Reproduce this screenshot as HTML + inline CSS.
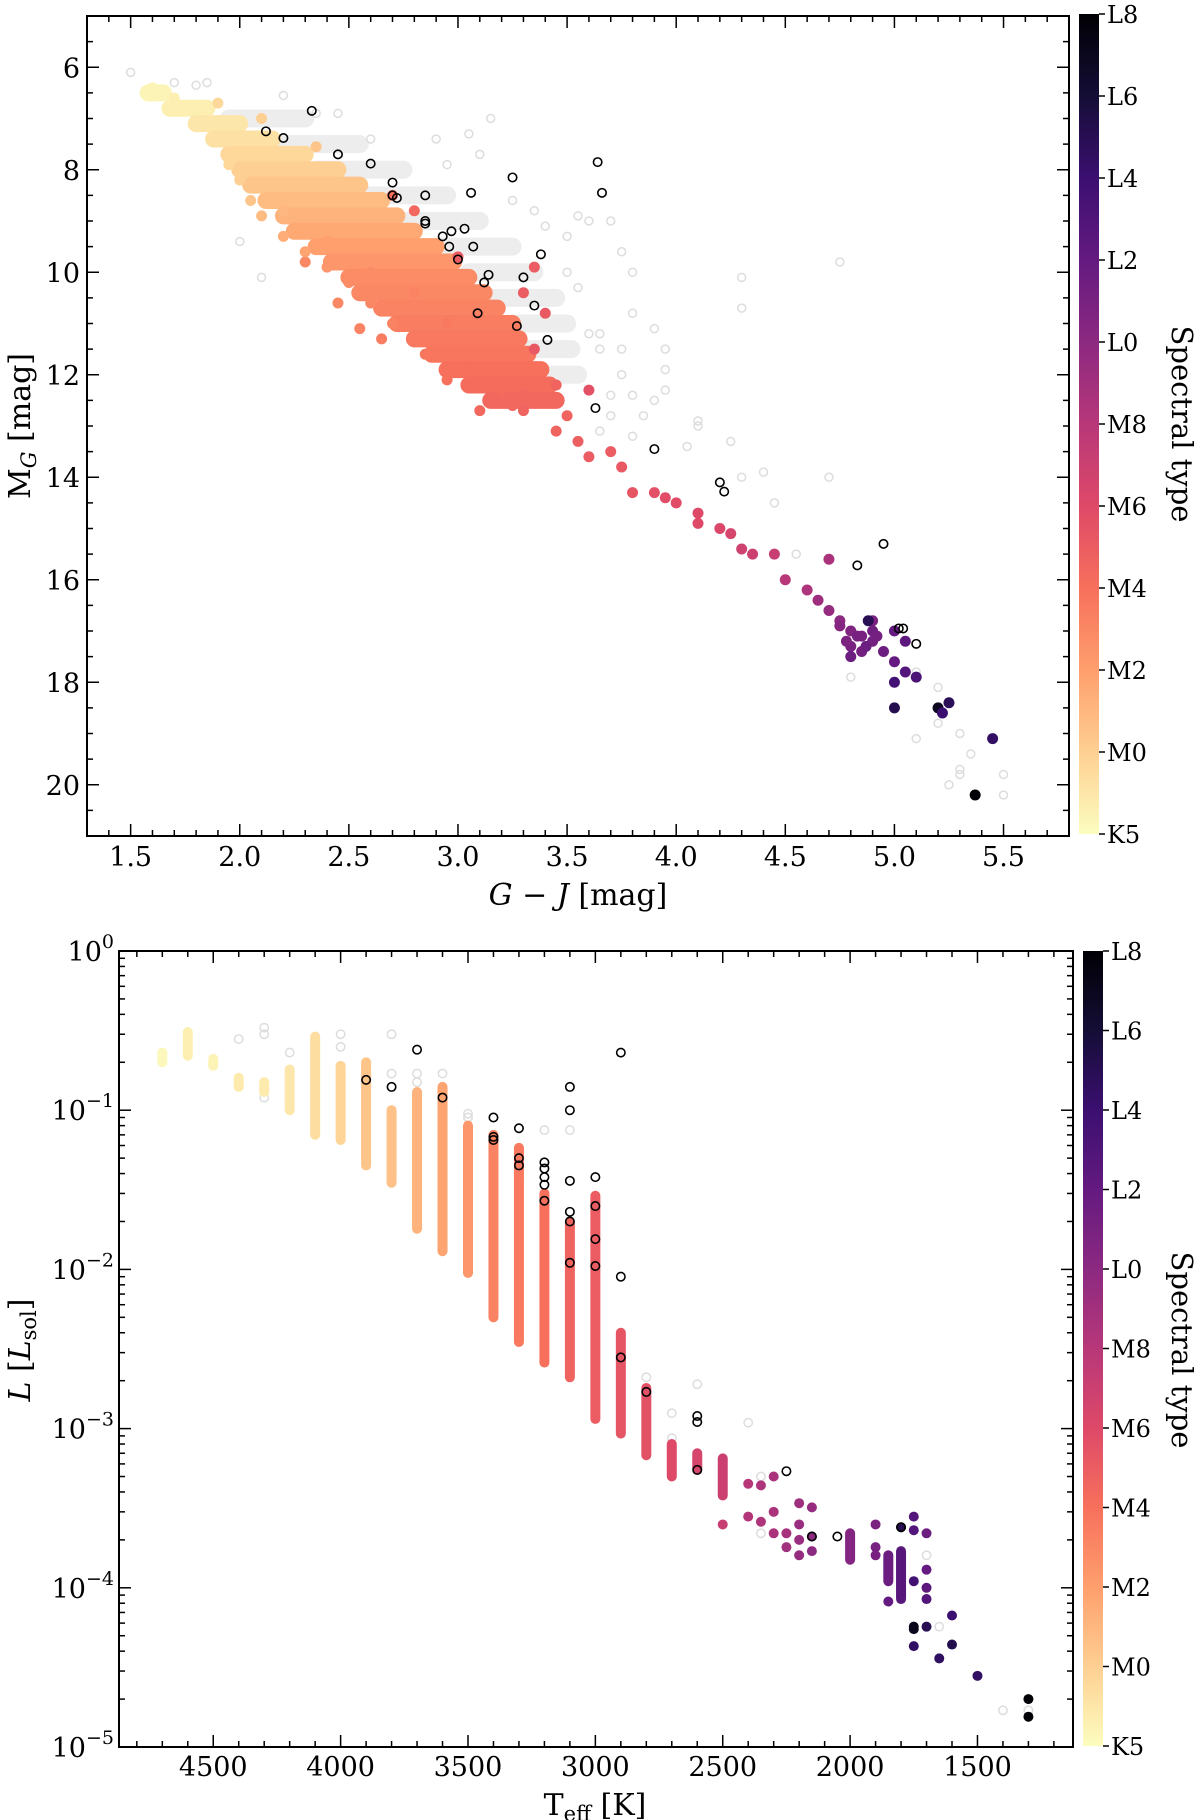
<!DOCTYPE html>
<html><head><meta charset="utf-8"><style>
html,body{margin:0;padding:0;background:#fff;}
svg{display:block;font-family:"DejaVu Serif","Liberation Serif",serif;}
</style></head><body>
<svg id="fig" width="1200" height="1820" viewBox="0 0 1200 1820" xmlns="http://www.w3.org/2000/svg">
<defs>
<linearGradient id="magma" x1="0" y1="1" x2="0" y2="0">
<stop offset="0" stop-color="#fcfdbf"/><stop offset="0.1" stop-color="#fecf92"/><stop offset="0.2" stop-color="#fe9f6d"/><stop offset="0.3" stop-color="#f7705c"/><stop offset="0.4" stop-color="#de4968"/><stop offset="0.5" stop-color="#b73779"/><stop offset="0.6" stop-color="#8c2981"/><stop offset="0.7" stop-color="#641a80"/><stop offset="0.8" stop-color="#3b0f70"/><stop offset="0.9" stop-color="#140e36"/><stop offset="1" stop-color="#000004"/>
</linearGradient>
</defs>
<g id="top"></g>
<g id="bot"></g>
</svg>
<script>
// ---------- data: top panel (G-J, M_G, spectral index 0=K5 .. 10=L8) ----------
const topBandMG   = [6.5,6.8,7.1,7.4,7.7,8.0,8.3,8.6,8.9,9.2,9.5,9.8,10.1,10.4,10.7,11.0,11.3,11.6,11.9,12.2,12.5];
const topBandXlo  = [1.58,1.68,1.8,1.88,1.95,2.0,2.05,2.12,2.2,2.25,2.35,2.42,2.5,2.55,2.65,2.72,2.8,2.88,2.95,3.05,3.15];
const topBandXhi  = [1.65,1.85,2.0,2.15,2.3,2.45,2.55,2.65,2.72,2.8,2.9,2.98,3.05,3.12,3.18,3.25,3.28,3.32,3.38,3.42,3.45];
const topBandSpt  = [0.2,0.3,0.5,0.6,0.8,1.0,1.2,1.4,1.6,1.8,2.0,2.2,2.4,2.5,2.6,2.7,2.8,2.9,3.0,3.1,3.2];
const greyBandMG  = [7.0,7.5,8.0,8.5,9.0,9.5,10.0,10.5,11.0,11.5,12.0];
const greyBandXlo = [1.95,2.15,2.35,2.55,2.75,2.9,3.05,3.15,3.25,3.3,3.35];
const greyBandXhi = [2.3,2.55,2.75,2.95,3.1,3.25,3.35,3.45,3.5,3.52,3.55];
const topX   = [3.5,3.45,3.55,3.6,3.7,3.75,3.8,3.9,3.95,4.0,4.1,4.1,4.2,4.25,4.3,4.35,4.45,4.5,4.6,4.7,4.65,4.7,4.75,4.8,4.85,4.9,4.8,4.9,4.95,4.8,4.85,4.88,5.0,5.05,5.0,5.05,5.1,5.0,5.0,5.2,5.25,5.22,5.45,5.37,3.45,3.3,2.35,2.1,1.9,2.3,2.45,2.55,2.65,3.35,3.3,3.4,3.35,3.6,2.8,2.7,3.0,1.6,1.7,1.95,2.05,2.1,2.2,2.3,2.4,2.5,2.6,2.7,2.85,2.95,3.1,2.0,2.2,2.4,2.6,2.8,2.95,3.05,3.2,3.25,3.3,4.78,4.83,4.9,4.75,4.87,4.92];
const topY   = [12.8,13.1,13.3,13.6,13.5,13.8,14.3,14.3,14.4,14.5,14.7,14.9,15.0,15.1,15.4,15.5,15.5,16.0,16.2,15.6,16.4,16.6,16.8,17.0,17.1,17.2,17.3,16.8,17.4,17.5,17.4,16.8,17.0,17.2,17.6,17.8,17.9,18.0,18.5,18.5,18.4,18.6,19.1,20.2,12.2,12.7,7.55,7.0,6.7,9.8,10.6,11.1,11.3,9.9,10.4,10.8,11.5,12.3,8.8,8.5,9.7,6.4,6.6,7.9,8.6,8.9,9.3,9.6,9.9,10.2,10.6,11.0,11.6,12.1,12.7,8.2,8.8,9.4,10.0,10.4,11.0,11.9,12.3,12.6,12.4,17.2,17.1,17.0,16.9,17.3,17.1];
const topSpt = [3.3,3.3,3.4,3.5,3.5,3.6,3.7,3.8,3.9,3.9,4.0,4.0,4.1,4.2,4.4,4.5,4.6,5.0,5.2,5.3,5.6,5.8,6.0,6.3,6.5,6.6,6.5,6.4,6.8,6.8,6.6,8.5,7.0,7.2,7.0,7.4,7.6,7.8,8.6,9.4,8.4,8.0,8.2,10,3.3,3.3,1.2,1.0,0.8,2.5,2.5,2.6,2.7,3.5,3.5,3.6,3.6,3.8,3.2,3.0,3.5,0.2,0.3,0.8,1.2,1.4,1.7,1.9,2.2,2.4,2.5,2.6,2.9,3.0,3.2,1.0,1.5,2.0,2.4,2.6,2.8,3.0,3.1,3.2,3.2,6.4,6.5,6.7,6.2,6.8,6.6];
const greyX = [1.5,1.7,1.8,1.85,2.2,2.0,2.35,2.6,3.15,3.1,3.05,2.95,3.25,3.35,3.4,3.55,3.6,3.5,3.7,3.75,3.5,3.55,3.6,3.65,3.65,3.75,3.8,3.8,3.9,3.95,3.95,3.8,3.9,3.95,3.85,3.7,3.65,3.8,4.05,4.1,4.1,4.25,4.3,4.4,4.45,4.7,4.3,4.3,4.75,4.55,5.1,5.2,5.2,5.3,5.1,5.35,5.3,5.3,5.25,5.5,5.5,4.8,3.75,3.7,2.1,2.45,2.9];
const greyY = [6.1,6.3,6.35,6.3,6.55,9.4,6.9,7.4,7.0,7.7,7.3,7.9,8.6,8.8,9.1,8.9,9.0,9.3,9.0,9.6,10.0,10.3,11.2,11.2,11.5,11.5,10.8,10.0,11.1,11.5,11.9,12.4,12.5,12.3,12.8,12.8,13.1,13.2,13.4,12.9,13.0,13.3,14.0,13.9,14.5,14.0,10.1,10.7,9.8,15.5,17.8,18.1,18.8,19.0,19.1,19.4,19.7,19.8,20.0,19.8,20.2,17.9,12.0,12.4,10.1,6.9,7.4];
const blackX = [2.12,2.2,2.33,2.45,2.6,2.7,2.7,2.72,2.85,2.85,2.85,2.93,2.97,2.96,3.03,3.06,3.07,3.0,3.09,3.12,3.14,3.25,3.27,3.3,3.35,3.38,3.41,3.64,3.66,3.63,3.9,4.2,4.22,4.83,4.95,5.02,5.04,5.1];
const blackY = [7.25,7.38,6.85,7.7,7.88,8.25,8.5,8.55,8.5,9.0,9.05,9.3,9.2,9.5,9.15,8.45,9.5,9.75,10.8,10.2,10.05,8.15,11.05,10.1,10.65,9.65,11.32,7.85,8.45,12.65,13.45,14.1,14.28,15.72,15.3,16.95,16.95,17.25];
const topXTicks = [1.5,2.0,2.5,3.0,3.5,4.0,4.5,5.0,5.5];
const topYTicks = [6,8,10,12,14,16,18,20];
const cbLabels = ["K5","M0","M2","M4","M6","M8","L0","L2","L4","L6","L8"];

// ---------- data: bottom panel (Teff, L) ----------
const colT   = [4700,4600,4500,4400,4300,4200,4100,4000,3900,3800,3700,3600,3500,3400,3300,3200,3100,3000,2900,2800,2700,2600,2500,2000,1850,1800];
const colLo  = [0.2,0.22,0.19,0.14,0.13,0.1,0.07,0.065,0.045,0.035,0.018,0.013,0.0095,0.005,0.0035,0.0026,0.0021,0.00115,0.00093,0.00068,0.0005,0.00055,0.00038,0.00015,0.00011,0.000085];
const colHi  = [0.23,0.31,0.21,0.16,0.15,0.18,0.29,0.19,0.2,0.1,0.13,0.14,0.08,0.07,0.058,0.03,0.02,0.029,0.004,0.0018,0.0008,0.0007,0.00065,0.00022,0.00016,0.00017];
const colSpt = [0.1,0.3,0.2,0.4,0.4,0.5,0.7,0.9,1.2,1.3,1.6,1.9,2.2,2.6,2.8,3.0,3.3,3.5,3.7,3.8,4.0,4.2,4.5,6.2,6.8,7.3];
const botT   = [2500,2400,2400,2350,2350,2300,2300,2300,2250,2250,2200,2200,2200,2200,2150,2150,2150,1900,1900,1900,1850,1800,1750,1750,1750,1750,1750,1750,1700,1700,1700,1700,1700,1650,1600,1600,1500,1300,1300];
const botL   = [0.00025,0.00045,0.00028,0.00044,0.00026,0.0005,0.0003,0.00022,0.00022,0.00018,0.00034,0.00025,0.0002,0.00016,0.00032,0.00021,0.00017,0.00025,0.00018,0.00016,0.000082,0.00024,0.00028,0.00023,0.00011,0.000057,0.000055,0.000043,0.00022,0.00013,0.0001,0.000085,0.000057,0.000036,0.000067,0.000044,0.000028,0.00002,0.0000155];
const botSpt = [4.6,5.0,5.1,5.2,5.2,5.3,5.3,5.3,5.4,5.5,5.6,5.7,5.7,5.8,5.8,6.0,6.0,6.4,6.5,6.5,7.0,8.5,7.4,7.4,7.8,9.5,9.5,8.2,6.8,7.0,7.2,7.4,8.5,8.3,8.0,8.6,8.2,10,10];
const bgT = [4300,4300,4400,4300,4200,4100,4000,4000,3800,3800,3700,3600,3500,3300,3200,3100,3000,3000,2800,2700,2700,2600,2400,2350,2350,1700,1650,1400,1300,4100,4100,3700,3500,3000];
const bgL = [0.33,0.3,0.28,0.12,0.23,0.2,0.3,0.25,0.3,0.17,0.17,0.17,0.095,0.035,0.075,0.075,0.021,0.008,0.0021,0.00125,0.00087,0.0019,0.00109,0.0005,0.00022,0.00016,0.000057,0.000017,0.000017,0.16,0.13,0.15,0.09,0.007];
const bkT = [3900,3800,3700,3600,3400,3400,3400,3300,3300,3300,3200,3200,3200,3200,3200,3100,3100,3100,3100,3100,3100,3000,3000,3000,3000,2900,2900,2900,2800,2600,2600,2600,2250,2150,2050,1800];
const bkL = [0.155,0.14,0.24,0.12,0.09,0.068,0.065,0.077,0.05,0.045,0.047,0.043,0.038,0.034,0.027,0.14,0.1,0.036,0.023,0.02,0.011,0.038,0.025,0.0155,0.0105,0.23,0.009,0.0028,0.0017,0.0012,0.0011,0.00055,0.00054,0.00021,0.00021,0.00024];
const botXTicks = [4500,4000,3500,3000,2500,2000,1500];
const botYExp = [0,-1,-2,-3,-4,-5];

// ---------- helpers ----------
const NS="http://www.w3.org/2000/svg";
function mk(parent,tag,attrs){const e=document.createElementNS(NS,tag);for(const k in attrs)e.setAttribute(k,attrs[k]);parent.appendChild(e);return e;}
const stops=[[0,[252,253,191]],[0.1,[254,207,146]],[0.2,[254,159,109]],[0.3,[247,112,92]],[0.4,[222,73,104]],[0.5,[183,55,121]],[0.6,[140,41,129]],[0.7,[100,26,128]],[0.8,[59,15,112]],[0.9,[20,14,54]],[1,[0,0,4]]];
function cmap(s){let t=Math.max(0,Math.min(1,s/10));for(let i=0;i<stops.length-1;i++){const a=stops[i],b=stops[i+1];if(t<=b[0]){const f=(t-a[0])/(b[0]-a[0]);const c=a[1].map((v,j)=>Math.round(v+(b[1][j]-v)*f));return`rgb(${c[0]},${c[1]},${c[2]})`;}}return"rgb(0,0,4)";}

// ---------- top panel ----------
const T={x0:87,x1:1069,y0:16,y1:836,xmin:1.3,xmax:5.8,ymin:5,ymax:21};
const tx=v=>T.x0+(v-T.xmin)/(T.xmax-T.xmin)*(T.x1-T.x0);
const ty=v=>T.y0+(v-T.ymin)/(T.ymax-T.ymin)*(T.y1-T.y0);
const gt=document.getElementById('top');
const gtg=mk(gt,'g',{});


for(let i=0;i<greyBandMG.length;i++){
  const l=mk(gtg,'line',{x1:tx(greyBandXlo[i]),x2:tx(greyBandXhi[i]),y1:ty(greyBandMG[i]),y2:ty(greyBandMG[i]),stroke:'#ededed','stroke-width':18,'stroke-linecap':'round'});
  
  
}
for(let i=0;i<greyX.length;i++){
  const c=mk(gtg,'circle',{cx:tx(greyX[i]),cy:ty(greyY[i]),r:4,fill:'none',stroke:'#dddddd','stroke-width':1.5});
  
  
}
const gtc=mk(gt,'g',{});


for(let i=0;i<topBandMG.length;i++){
  const l=mk(gtc,'line',{x1:tx(topBandXlo[i]),x2:tx(topBandXhi[i]),y1:ty(topBandMG[i]),y2:ty(topBandMG[i]),stroke:cmap(topBandSpt[i]),'stroke-width':17,'stroke-linecap':'round'});
  
  
}
for(let i=0;i<topX.length;i++){
  const c=mk(gtc,'circle',{cx:tx(topX[i]),cy:ty(topY[i]),r:5.5,fill:cmap(topSpt[i])});
  
  
}
for(let i=0;i<blackX.length;i++){
  const c=mk(gt,'circle',{cx:tx(blackX[i]),cy:ty(blackY[i]),r:4.2,fill:'none',stroke:'#000','stroke-width':1.6});
  
  
}
mk(gt,'rect',{x:T.x0,y:T.y0,width:T.x1-T.x0,height:T.y1-T.y0,fill:'none',stroke:'#000','stroke-width':2});
for(let v=1.4;v<=5.75;v+=0.1){const X=tx(v);const maj=topXTicks.some(t=>Math.abs(t-v)<1e-6);const L=maj?12:6;
  mk(gt,'line',{x1:X,x2:X,y1:T.y1,y2:T.y1-L,stroke:'#000','stroke-width':1.5});mk(gt,'line',{x1:X,x2:X,y1:T.y0,y2:T.y0+L,stroke:'#000','stroke-width':1.5});}
for(let v=5.5;v<=20.6;v+=0.5){const Y=ty(v);const maj=topYTicks.includes(v);const L=maj?12:6;
  mk(gt,'line',{x1:T.x0,x2:T.x0+L,y1:Y,y2:Y,stroke:'#000','stroke-width':1.5});mk(gt,'line',{x1:T.x1,x2:T.x1-L,y1:Y,y2:Y,stroke:'#000','stroke-width':1.5});}
topXTicks.forEach(v=>{const t=mk(gt,'text',{x:tx(v),y:866,'font-size':27,'text-anchor':'middle'});t.textContent=v.toFixed(1);
  
  });
topYTicks.forEach(v=>{const t=mk(gt,'text',{x:80,y:ty(v)+10,'font-size':27,'text-anchor':'end'});t.textContent=v;
  
  });
{const t=mk(gt,'text',{x:578,y:905,'font-size':30,'text-anchor':'middle'});t.innerHTML='<tspan font-style="italic">G</tspan> − <tspan font-style="italic">J</tspan> [mag]';
 
 }
{const t=mk(gt,'text',{x:0,y:0,'font-size':30,'text-anchor':'middle',transform:'translate(30,426) rotate(-90)'});t.innerHTML='M<tspan font-style="italic" font-size="21" dy="6">G</tspan><tspan dy="-6"> [mag]</tspan>';
 
 }
function colorbar(g,x,y0,y1,labY){
  const r=mk(g,'rect',{x:x,y:y0,width:20,height:y1-y0,fill:'url(#magma)'});
  
  
  cbLabels.forEach((lab,i)=>{const Y=y1-(y1-y0)*i/10;
    mk(g,'line',{x1:x+20,x2:x+26,y1:Y,y2:Y,stroke:'#000','stroke-width':1.5});
    const t=mk(g,'text',{x:x+28,y:Y+9,'font-size':24});t.textContent=lab;
    
    });
  const t=mk(g,'text',{x:0,y:0,'font-size':29,'text-anchor':'middle',transform:`translate(1172,${labY}) rotate(90)`});t.textContent='Spectral type';
  
  
}
colorbar(gt,1079,14,834,424);

// ---------- bottom panel ----------
const B={x0:119,x1:1073,y0:951,y1:1747,xmin:4870,xmax:1125,lmin:-5,lmax:0};
const bx=v=>B.x0+(v-B.xmin)/(B.xmax-B.xmin)*(B.x1-B.x0);
const by=v=>B.y1-(Math.log10(v)-B.lmin)/(B.lmax-B.lmin)*(B.y1-B.y0);
const gb=document.getElementById('bot');
for(let i=0;i<bgT.length;i++){
  const c=mk(gb,'circle',{cx:bx(bgT[i]),cy:by(bgL[i]),r:4.2,fill:'none',stroke:'#dddddd','stroke-width':1.5});
  
  
}
for(let i=0;i<colT.length;i++){
  const l=mk(gb,'line',{x1:bx(colT[i]),x2:bx(colT[i]),y1:by(colLo[i]),y2:by(colHi[i]),stroke:cmap(colSpt[i]),'stroke-width':10,'stroke-linecap':'round'});
  
  
}
for(let i=0;i<botT.length;i++){
  const c=mk(gb,'circle',{cx:bx(botT[i]),cy:by(botL[i]),r:5,fill:cmap(botSpt[i])});
  
  
}
for(let i=0;i<bkT.length;i++){
  const c=mk(gb,'circle',{cx:bx(bkT[i]),cy:by(bkL[i]),r:4.2,fill:'none',stroke:'#000','stroke-width':1.6});
  
  
}
mk(gb,'rect',{x:B.x0,y:B.y0,width:B.x1-B.x0,height:B.y1-B.y0,fill:'none',stroke:'#000','stroke-width':2});
for(let v=4800;v>=1200;v-=100){const X=bx(v);const L=(v%500===0)?12:6;
  mk(gb,'line',{x1:X,x2:X,y1:B.y1,y2:B.y1-L,stroke:'#000','stroke-width':1.5});mk(gb,'line',{x1:X,x2:X,y1:B.y0,y2:B.y0+L,stroke:'#000','stroke-width':1.5});}
for(let e=-5;e<0;e++){for(let m=1;m<10;m++){const Y=by(m*Math.pow(10,e));const L=m===1?12:6;
  mk(gb,'line',{x1:B.x0,x2:B.x0+L,y1:Y,y2:Y,stroke:'#000','stroke-width':1.5});mk(gb,'line',{x1:B.x1,x2:B.x1-L,y1:Y,y2:Y,stroke:'#000','stroke-width':1.5});}}
botXTicks.forEach(v=>{const t=mk(gb,'text',{x:bx(v),y:1776,'font-size':27,'text-anchor':'middle'});t.textContent=v;
  
  });
botYExp.forEach(e=>{const t=mk(gb,'text',{x:114,y:by(Math.pow(10,e))+10,'font-size':27,'text-anchor':'end'});t.innerHTML='10<tspan font-size="19" dy="-13">'+(e===0?'0':'−'+(-e))+'</tspan>';
  
  });
{const t=mk(gb,'text',{x:595,y:1815,'font-size':30,'text-anchor':'middle'});t.innerHTML='T<tspan font-size="21" dy="6">eff</tspan><tspan dy="-6"> [K]</tspan>';
 
 }
{const t=mk(gb,'text',{x:0,y:0,'font-size':30,'text-anchor':'middle',transform:'translate(30,1350) rotate(-90)'});t.innerHTML='<tspan font-style="italic">L</tspan> [<tspan font-style="italic">L</tspan><tspan font-size="21" dy="6">sol</tspan><tspan dy="-6">]</tspan>';
 
 }
colorbar(gb,1083,951,1746,1350);
</script>
</body></html>
